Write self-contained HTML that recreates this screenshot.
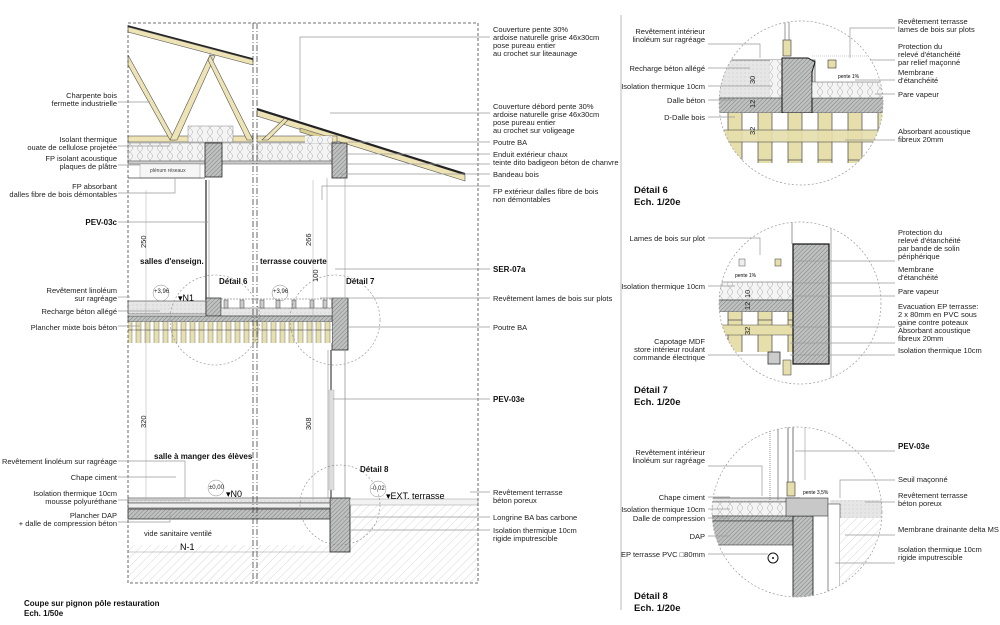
<!DOCTYPE html>
<html><head><meta charset="utf-8"><style>
html,body{margin:0;padding:0;background:#fff;}
svg{display:block;font-family:"Liberation Sans",sans-serif;}
.t{font-size:7.5px;fill:#222;}
.b{font-size:8px;font-weight:bold;fill:#111;}
.h{font-size:9.5px;font-weight:bold;fill:#111;}
.l{stroke:#999;stroke-width:0.7;fill:none;}
</style></head><body>
<svg width="1000" height="625" viewBox="0 0 1000 625" xmlns="http://www.w3.org/2000/svg">
<defs>
<pattern id="hatch" width="3" height="3" patternUnits="userSpaceOnUse" patternTransform="rotate(45)">
<rect width="3" height="3" fill="#bfc0c0"/><line x1="0" y1="0" x2="0" y2="3" stroke="#6f7070" stroke-width="0.8"/></pattern>
<pattern id="ground" width="6" height="6" patternUnits="userSpaceOnUse" patternTransform="rotate(45)">
<rect width="6" height="6" fill="#fff"/><line x1="0" y1="0" x2="0" y2="6" stroke="#c8c8c8" stroke-width="0.7"/></pattern>
<pattern id="ins" width="10" height="8" patternUnits="userSpaceOnUse">
<rect width="10" height="8" fill="#f4f4f4"/><path d="M0 0 Q5 4 0 8 M10 0 Q5 4 10 8" stroke="#aaa" stroke-width="0.5" fill="none"/></pattern>
<pattern id="joist" width="9" height="30" patternUnits="userSpaceOnUse">
<rect width="9" height="30" fill="#fff"/><rect x="1" width="5" height="30" fill="#e8dfae" stroke="#555" stroke-width="0.4"/></pattern>
<pattern id="joist2" width="30" height="80" patternUnits="userSpaceOnUse">
<rect width="30" height="80" fill="#fff"/><rect x="8" width="14" height="80" fill="#e6deab" stroke="#444" stroke-width="0.7"/></pattern>
<pattern id="dots" width="4" height="4" patternUnits="userSpaceOnUse"><rect width="4" height="4" fill="#e6e6e6"/><circle cx="1" cy="1" r="0.4" fill="#999"/></pattern>
<clipPath id="c6"><circle cx="801" cy="103" r="82"/></clipPath>
<clipPath id="c7"><circle cx="800" cy="303" r="81"/></clipPath>
<clipPath id="c8"><circle cx="797" cy="512" r="85"/></clipPath>
</defs>

<!-- MAIN SECTION -->
<rect x="128" y="545" width="350" height="38" fill="url(#ground)"/>
<rect x="350" y="505" width="128" height="78" fill="url(#ground)"/>
<!-- roof 1 truss -->
<g fill="#ede3b4" stroke="#555" stroke-width="0.6">
<polygon points="128,27 253,60 253,65 128,32"/>
<rect x="128" y="136" width="125" height="6"/>
<polygon points="128,55 175,140 170,140 128,65"/>
<polygon points="170,140 210,55 215,56 177,140"/>
<polygon points="210,55 253,140 247,140 208,60"/>
<polygon points="257,110 465,175 465,181 257,116"/>
<rect x="257" y="136" width="80" height="6"/>
<polygon points="262,140 285,118 288,120 268,140"/>
<polygon points="300,128 332,138 332,142 300,132" fill="#d9cd92"/>
</g>
<line x1="128" y1="26" x2="253" y2="59" stroke="#222" stroke-width="1.5"/>
<line x1="257" y1="109" x2="465" y2="174" stroke="#222" stroke-width="2"/>
<!-- insulation -->
<rect x="188" y="126" width="45" height="16" fill="url(#ins)" stroke="#888" stroke-width="0.5"/>
<rect x="128" y="143" width="125" height="18" fill="url(#ins)" stroke="#888" stroke-width="0.5"/>
<rect x="257" y="143" width="75" height="18" fill="url(#ins)" stroke="#888" stroke-width="0.5"/>
<rect x="305" y="136" width="27" height="7" fill="url(#ins)"/>
<rect x="128" y="161" width="205" height="3" fill="#ccc" stroke="#555" stroke-width="0.5"/>
<rect x="140" y="164" width="60" height="14" fill="#f6f6f6" stroke="#888" stroke-width="0.4"/>
<text x="150" y="172" style="font-size:5px" fill="#444">plénum réseaux</text>
<line x1="128" y1="178" x2="205" y2="178" stroke="#444" stroke-width="0.8"/>
<!-- poutres -->
<rect x="205" y="143" width="17" height="34" fill="url(#hatch)" stroke="#222" stroke-width="0.8"/>
<rect x="332" y="143" width="15" height="35" fill="url(#hatch)" stroke="#222" stroke-width="0.8"/>
<rect x="332" y="298" width="16" height="52" fill="url(#hatch)" stroke="#222" stroke-width="0.8"/>
<rect x="330" y="498" width="20" height="54" fill="url(#hatch)" stroke="#222" stroke-width="0.8"/>
<!-- walls -->
<line x1="206" y1="180" x2="206" y2="300" stroke="#444" stroke-width="1.4"/>
<line x1="209" y1="180" x2="209" y2="300" stroke="#888" stroke-width="0.6"/>
<line x1="327" y1="178" x2="327" y2="298" stroke="#888" stroke-width="0.5"/>
<line x1="345" y1="178" x2="345" y2="298" stroke="#888" stroke-width="0.5"/>
<line x1="328" y1="350" x2="328" y2="498" stroke="#888" stroke-width="0.6"/>
<line x1="331" y1="350" x2="331" y2="498" stroke="#444" stroke-width="1.2"/>
<line x1="345" y1="350" x2="345" y2="498" stroke="#777" stroke-width="0.6"/>
<rect x="329" y="390" width="5" height="100" fill="#ddd" stroke="#aaa" stroke-width="0.4"/>
<!-- N1 floor -->
<rect x="128" y="301" width="78" height="13" fill="url(#dots)" stroke="#444" stroke-width="0.6"/>
<rect x="206" y="298" width="15" height="18" fill="url(#hatch)" stroke="#222" stroke-width="0.7"/>
<rect x="221" y="308" width="111" height="8" fill="url(#dots)" stroke="#555" stroke-width="0.5"/>
<rect x="128" y="316" width="204" height="6" fill="url(#hatch)" stroke="#333" stroke-width="0.6"/>
<rect x="128" y="322" width="204" height="21" fill="url(#joist)"/>
<line x1="128" y1="330" x2="332" y2="330" stroke="#555" stroke-width="0.5"/>
<g fill="#ccc" stroke="#444" stroke-width="0.5">
<rect x="224" y="300" width="4" height="8"/><rect x="240" y="300" width="4" height="8"/><rect x="260" y="300" width="4" height="8"/><rect x="276" y="300" width="4" height="8"/><rect x="292" y="300" width="4" height="8"/><rect x="310" y="300" width="4" height="8"/><rect x="323" y="300" width="4" height="8"/>
</g>
<line x1="221" y1="299" x2="332" y2="299" stroke="#666" stroke-width="0.6" stroke-dasharray="2,1"/>
<!-- N0 floor -->
<rect x="128" y="498" width="202" height="5" fill="url(#dots)" stroke="#444" stroke-width="0.6"/>
<rect x="128" y="503" width="202" height="5" fill="#eee" stroke="#444" stroke-width="0.6"/>
<rect x="128" y="509" width="202" height="10" fill="url(#hatch)" stroke="#333" stroke-width="0.8"/>
<rect x="350" y="499" width="128" height="6" fill="#f2f2f2" stroke="#999" stroke-width="0.5"/>
<line x1="128" y1="552" x2="330" y2="552" stroke="#999" stroke-width="0.6"/>
<!-- frame -->
<rect x="128" y="23" width="350" height="560" fill="none" stroke="#444" stroke-width="0.8" stroke-dasharray="3,2"/>
<line x1="253" y1="23" x2="253" y2="583" stroke="#444" stroke-width="0.8" stroke-dasharray="6,2,1,2"/>
<line x1="257" y1="23" x2="257" y2="583" stroke="#444" stroke-width="0.8" stroke-dasharray="6,2,1,2"/>
<!-- dims -->
<line x1="146" y1="190" x2="146" y2="500" stroke="#aaa" stroke-width="0.5"/>
<line x1="313" y1="180" x2="313" y2="500" stroke="#aaa" stroke-width="0.5"/>
<text transform="translate(146,248) rotate(-90)" class="t">250</text>
<text transform="translate(311,246) rotate(-90)" class="t">266</text>
<text transform="translate(318,282) rotate(-90)" class="t">100</text>
<text transform="translate(146,428) rotate(-90)" class="t">320</text>
<text transform="translate(311,430) rotate(-90)" class="t">308</text>
<!-- detail circles on main -->
<circle cx="215" cy="320" r="45" fill="none" stroke="#888" stroke-width="0.6" stroke-dasharray="2,2"/>
<circle cx="335" cy="320" r="45" fill="none" stroke="#888" stroke-width="0.6" stroke-dasharray="2,2"/>
<circle cx="340" cy="505" r="40" fill="none" stroke="#888" stroke-width="0.6" stroke-dasharray="2,2"/>
<!-- main labels -->
<text x="140" y="264" class="b">salles d'enseign.</text>
<text x="260" y="264" class="b">terrasse couverte</text>
<text x="219" y="284" class="b">Détail 6</text>
<text x="346" y="284" class="b">Détail 7</text>
<text x="154" y="459" class="b">salle à manger des élèves</text>
<text x="360" y="472" class="b">Détail 8</text>
<g font-size="6" fill="#222"><circle cx="161" cy="293" r="8" fill="none" stroke="#888" stroke-width="0.5"/><text x="154" y="293">+3,96</text>
<circle cx="280" cy="293" r="8" fill="none" stroke="#888" stroke-width="0.5"/><text x="273" y="293">+3,96</text>
<circle cx="216" cy="488" r="8" fill="none" stroke="#888" stroke-width="0.5"/><text x="209" y="489">±0,00</text>
<circle cx="378" cy="489" r="8" fill="none" stroke="#888" stroke-width="0.5"/><text x="371" y="490">-0,02</text></g>
<text x="178" y="301" style="font-size:9px">▾N1</text>
<text x="226" y="497" style="font-size:9px">▾N0</text>
<text x="386" y="499" style="font-size:9px">▾EXT. terrasse</text>
<text x="144" y="536" class="t">vide sanitaire ventilé</text>
<text x="180" y="550" style="font-size:9px">N-1</text>
<text x="24" y="606" class="b">Coupe sur pignon pôle restauration</text>
<text x="24" y="616" class="b">Ech. 1/50e</text>

<!-- left labels -->
<g class="t" text-anchor="end">
<text x="117" y="98">Charpente bois</text><text x="117" y="106">fermette industrielle</text>
<text x="117" y="142">Isolant thermique</text><text x="117" y="150">ouate de cellulose projetée</text>
<text x="117" y="161">FP isolant acoustique</text><text x="117" y="169">plaques de plâtre</text>
<text x="117" y="189">FP absorbant</text><text x="117" y="197">dalles fibre de bois démontables</text>
<text x="117" y="225" class="b">PEV-03c</text>
<text x="117" y="293">Revêtement linoléum</text><text x="117" y="301">sur ragréage</text>
<text x="117" y="314">Recharge béton allégé</text>
<text x="117" y="330">Plancher mixte bois béton</text>
<text x="117" y="464">Revêtement linoléum sur ragréage</text>
<text x="117" y="480">Chape ciment</text>
<text x="117" y="496">Isolation thermique 10cm</text><text x="117" y="504">mousse polyuréthane</text>
<text x="117" y="518">Plancher DAP</text><text x="117" y="526">+ dalle de compression béton</text>
</g>
<g class="l">
<polyline points="118,102 150,102"/><polyline points="118,146 170,146"/><polyline points="118,165 140,165"/><polyline points="118,193 175,193 175,178"/><polyline points="118,222 208,222"/><polyline points="118,297 130,297"/><polyline points="118,311 160,311"/><polyline points="118,326 140,326"/><polyline points="118,461 185,461 185,498"/><polyline points="118,477 176,477"/><polyline points="118,500 190,500"/><polyline points="118,522 170,522 170,512"/>
</g>
<!-- right labels -->
<g class="t">
<text x="493" y="32">Couverture pente 30%</text><text x="493" y="40">ardoise naturelle grise 46x30cm</text><text x="493" y="48">pose pureau entier</text><text x="493" y="56">au crochet sur liteaunage</text>
<text x="493" y="109">Couverture débord pente 30%</text><text x="493" y="117">ardoise naturelle grise 46x30cm</text><text x="493" y="125">pose pureau entier</text><text x="493" y="133">au crochet sur voligeage</text>
<text x="493" y="145">Poutre BA</text>
<text x="493" y="157">Enduit extérieur chaux</text><text x="493" y="165">teinte dito badigeon béton de chanvre</text>
<text x="493" y="177">Bandeau bois</text>
<text x="493" y="194">FP extérieur dalles fibre de bois</text><text x="493" y="202">non démontables</text>
<text x="493" y="272" class="b">SER-07a</text>
<text x="493" y="301">Revêtement lames de bois sur plots</text>
<text x="493" y="330">Poutre BA</text>
<text x="493" y="402" class="b">PEV-03e</text>
<text x="493" y="495">Revêtement terrasse</text><text x="493" y="503">béton poreux</text>
<text x="493" y="520">Longrine BA bas carbone</text>
<text x="493" y="533">Isolation thermique 10cm</text><text x="493" y="541">rigide imputrescible</text>
</g>
<g class="l">
<polyline points="490,37 300,37 300,120"/><polyline points="490,113 330,113"/><polyline points="490,142 348,142"/><polyline points="490,154 345,154"/><polyline points="490,164 345,164"/><polyline points="490,174 340,174"/><polyline points="490,186 322,186 322,200"/><polyline points="490,269 335,269"/><polyline points="490,298 320,298"/><polyline points="490,327 348,327"/><polyline points="490,399 333,399"/><polyline points="490,492 470,492"/><polyline points="490,517 345,517"/><polyline points="490,530 350,530"/>
</g>

<!-- divider -->
<line x1="621" y1="15" x2="621" y2="610" stroke="#bbb" stroke-width="1"/>

<!-- DETAIL 6 -->
<g clip-path="url(#c6)">
<rect x="715" y="60" width="100" height="40" fill="url(#dots)" stroke="#333" stroke-width="0.6"/>
<rect x="770" y="60" width="12" height="40" fill="url(#ins)"/>
<rect x="715" y="98" width="180" height="15" fill="url(#hatch)" stroke="#333" stroke-width="0.6"/>
<polygon points="782,58 808,58 815,62 812,72 812,113 782,113" fill="url(#hatch)" stroke="#111" stroke-width="1"/>
<rect x="812" y="82" width="90" height="16" fill="url(#ins)" stroke="#555" stroke-width="0.5"/>
<rect x="715" y="113" width="180" height="50" fill="url(#joist2)"/>
<rect x="715" y="130" width="180" height="12" fill="#e6deab" stroke="#444" stroke-width="0.6" opacity="0.9"/>
<rect x="783" y="40" width="8" height="16" fill="#e6deab" stroke="#333" stroke-width="0.6"/>
<rect x="828" y="60" width="8" height="8" fill="#e6deab" stroke="#333" stroke-width="0.6"/>
<line x1="785" y1="20" x2="785" y2="40" stroke="#555" stroke-width="0.6"/>
<line x1="789" y1="20" x2="789" y2="40" stroke="#555" stroke-width="0.6"/>
<line x1="812" y1="56" x2="900" y2="56" stroke="#999" stroke-dasharray="1,1" stroke-width="0.6"/>
</g>
<circle cx="801" cy="103" r="82" fill="none" stroke="#999" stroke-width="0.7" stroke-dasharray="2,2"/>
<text x="838" y="78" style="font-size:5px">pente 1%</text>
<text transform="translate(755,84) rotate(-90)" class="t">30</text>
<text transform="translate(755,108) rotate(-90)" class="t">12</text>
<text transform="translate(755,135) rotate(-90)" class="t">32</text>
<g class="t" text-anchor="end">
<text x="705" y="34">Revêtement intérieur</text><text x="705" y="42">linoléum sur ragréage</text>
<text x="705" y="71">Recharge béton allégé</text>
<text x="705" y="89">Isolation thermique 10cm</text>
<text x="705" y="103">Dalle béton</text>
<text x="705" y="120">D-Dalle bois</text>
</g>
<g class="t">
<text x="898" y="24">Revêtement terrasse</text><text x="898" y="32">lames de bois sur plots</text>
<text x="898" y="49">Protection du</text><text x="898" y="57">relevé d'étanchéité</text><text x="898" y="65">par relief maçonné</text>
<text x="898" y="75">Membrane</text><text x="898" y="83">d'étanchéité</text>
<text x="898" y="97">Pare vapeur</text>
<text x="898" y="134">Absorbant acoustique</text><text x="898" y="142">fibreux 20mm</text>
</g>
<g class="l">
<polyline points="708,44 760,44 760,58"/><polyline points="708,68 750,68"/><polyline points="708,86 772,86"/><polyline points="708,100 735,100"/><polyline points="708,117 735,117"/>
<polyline points="895,28 850,28 850,58"/><polyline points="895,60 870,60"/><polyline points="895,80 855,80"/><polyline points="895,94 875,94"/><polyline points="895,140 845,140"/>
</g>
<text x="634" y="193" class="h">Détail 6</text><text x="634" y="205" class="h">Ech. 1/20e</text>

<!-- DETAIL 7 -->
<g clip-path="url(#c7)">
<rect x="715" y="282" width="110" height="18" fill="url(#ins)" stroke="#555" stroke-width="0.5"/>
<rect x="715" y="300" width="110" height="12" fill="url(#hatch)" stroke="#333" stroke-width="0.6"/>
<rect x="715" y="312" width="110" height="40" fill="url(#joist2)"/>
<rect x="715" y="325" width="110" height="10" fill="#e6deab" stroke="#444" stroke-width="0.5"/>
<rect x="793" y="244" width="36" height="120" fill="url(#hatch)" stroke="#111" stroke-width="1.2"/>
<rect x="739" y="259" width="6" height="7" fill="#eee" stroke="#555" stroke-width="0.5"/>
<rect x="775" y="259" width="6" height="7" fill="#e6deab" stroke="#333" stroke-width="0.5"/>
<rect x="768" y="352" width="12" height="12" fill="#ccc" stroke="#333" stroke-width="0.8"/>
<rect x="783" y="360" width="8" height="15" fill="#e6deab" stroke="#333" stroke-width="0.5"/>
<line x1="792" y1="222" x2="792" y2="244" stroke="#555" stroke-width="0.6"/>
<line x1="831" y1="222" x2="831" y2="385" stroke="#777" stroke-width="0.6"/>
</g>
<circle cx="800" cy="303" r="81" fill="none" stroke="#999" stroke-width="0.7" stroke-dasharray="2,2"/>
<text x="735" y="277" style="font-size:5px">pente 1%</text>
<text transform="translate(750,298) rotate(-90)" class="t">10</text>
<text transform="translate(750,310) rotate(-90)" class="t">12</text>
<text transform="translate(750,335) rotate(-90)" class="t">32</text>
<g class="t" text-anchor="end">
<text x="705" y="241">Lames de bois sur plot</text>
<text x="705" y="289">Isolation thermique 10cm</text>
<text x="705" y="344">Capotage MDF</text><text x="705" y="352">store intérieur roulant</text><text x="705" y="360">commande électrique</text>
</g>
<g class="t">
<text x="898" y="235">Protection du</text><text x="898" y="243">relevé d'étanchéité</text><text x="898" y="251">par bande de solin</text><text x="898" y="259">périphérique</text>
<text x="898" y="272">Membrane</text><text x="898" y="280">d'étanchéité</text>
<text x="898" y="294">Pare vapeur</text>
<text x="898" y="309">Evacuation EP terrasse:</text><text x="898" y="317">2 x 80mm en PVC sous</text><text x="898" y="325">gaine contre poteaux</text>
<text x="898" y="333">Absorbant acoustique</text><text x="898" y="341">fibreux 20mm</text>
<text x="898" y="353">Isolation thermique 10cm</text>
</g>
<g class="l">
<polyline points="708,238 760,238 760,255"/><polyline points="708,286 735,286"/><polyline points="708,355 770,355"/>
<polyline points="895,261 795,261"/><polyline points="895,283 795,283"/><polyline points="895,296 795,296"/><polyline points="895,327 790,327"/><polyline points="895,343 790,343"/><polyline points="895,355 790,355"/>
</g>
<text x="634" y="393" class="h">Détail 7</text><text x="634" y="405" class="h">Ech. 1/20e</text>

<!-- DETAIL 8 -->
<g clip-path="url(#c8)">
<rect x="710" y="498" width="90" height="4" fill="url(#dots)" stroke="#333" stroke-width="0.6"/>
<rect x="710" y="502" width="90" height="14" fill="url(#ins)" stroke="#555" stroke-width="0.5"/>
<rect x="710" y="516" width="100" height="5" fill="url(#hatch)" stroke="#333" stroke-width="0.6"/>
<rect x="710" y="521" width="100" height="24" fill="url(#hatch)" stroke="#333" stroke-width="0.6"/>
<rect x="793" y="516" width="20" height="90" fill="url(#hatch)" stroke="#111" stroke-width="0.8"/>
<rect x="786" y="498" width="42" height="18" fill="#c8c8c8" stroke="#333" stroke-width="0.6"/>
<rect x="830" y="500" width="60" height="18" fill="url(#dots)"/>
<rect x="828" y="504" width="12" height="100" fill="#fff" stroke="#444" stroke-width="0.6"/>
<rect x="840" y="518" width="50" height="90" fill="url(#ground)"/>
<rect x="787" y="482" width="8" height="14" fill="#e6deab" stroke="#333" stroke-width="0.6"/>
<line x1="770" y1="425" x2="770" y2="500" stroke="#777" stroke-width="0.8" stroke-dasharray="1,1"/>
<line x1="778" y1="425" x2="778" y2="500" stroke="#777" stroke-width="0.8"/>
<line x1="788" y1="425" x2="788" y2="482" stroke="#555" stroke-width="0.8"/>
<line x1="793" y1="425" x2="793" y2="482" stroke="#555" stroke-width="0.8"/>
<line x1="805" y1="425" x2="805" y2="480" stroke="#999" stroke-width="0.6"/>
</g>
<circle cx="797" cy="512" r="85" fill="none" stroke="#999" stroke-width="0.7" stroke-dasharray="2,2"/>
<circle cx="773" cy="558" r="5" fill="none" stroke="#111" stroke-width="1"/><circle cx="773" cy="558" r="1" fill="#111"/>
<text x="803" y="494" style="font-size:5px">pente 3,5%</text>
<g class="t" text-anchor="end">
<text x="705" y="455">Revêtement intérieur</text><text x="705" y="463">linoléum sur ragréage</text>
<text x="705" y="500">Chape ciment</text>
<text x="705" y="512">Isolation thermique 10cm</text>
<text x="705" y="521">Dalle de compression</text>
<text x="705" y="539">DAP</text>
<text x="705" y="557">EP terrasse PVC □80mm</text>
</g>
<g class="t">
<text x="898" y="449" class="b">PEV-03e</text>
<text x="898" y="482">Seuil maçonné</text>
<text x="898" y="498">Revêtement terrasse</text><text x="898" y="506">béton poreux</text>
<text x="898" y="532">Membrane drainante delta MS</text>
<text x="898" y="552">Isolation thermique 10cm</text><text x="898" y="560">rigide imputrescible</text>
</g>
<g class="l">
<polyline points="708,466 762,466 762,496"/><polyline points="708,497 730,497"/><polyline points="708,509 730,509"/><polyline points="708,518 730,518"/><polyline points="708,536 730,536"/><polyline points="708,554 768,554"/>
<polyline points="895,451 795,451"/><polyline points="895,480 840,480 840,498"/><polyline points="895,502 865,502"/><polyline points="895,535 845,535"/><polyline points="895,563 835,563"/>
</g>
<text x="634" y="599" class="h">Détail 8</text><text x="634" y="611" class="h">Ech. 1/20e</text>
</svg>
</body></html>
